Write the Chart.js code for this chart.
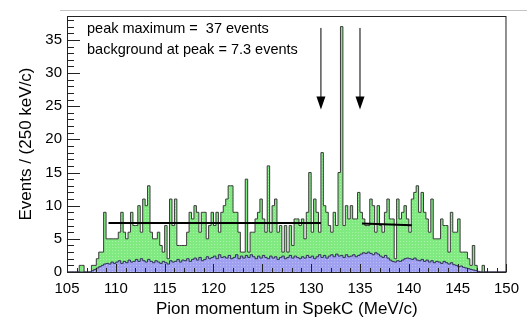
<!DOCTYPE html>
<html lang="en">
<head>
    <meta charset="UTF-8">
    <title>Pion momentum in SpekC</title>
    <script src="https://cdn.jsdelivr.net/npm/chart.js"></script>
    <style>
        body { margin: 0; background: #fff; }
        #wrap { width: 527px; height: 318px; }
    </style>
</head>
<body>
    <div id="wrap"><canvas id="histChart" width="527" height="318"></canvas></div>
    <script>
        // Histogram binning (MeV/c)
        const binLow = 105;
        const binWidth = 0.25;

        // Events per 250 keV/c bin, 105.00 ... 149.75 (4 bins per group = 1 MeV/c)
        const totalCounts = [
            0, 0, 0, 0,   0, 1, 1, 0,   0, 0, 1, 1,   2, 3, 3, 9,
            5, 5, 5, 5,   5, 6, 9, 6,   5, 6, 9, 7,   7, 10, 6, 11,
            10, 13, 6, 5, 5, 6, 4, 3,   7, 2, 11, 7,  11, 4, 4, 4,
            4, 6, 9, 8,   10, 9, 6, 9,  9, 5, 7, 9,   7, 9, 6, 9,
            10, 11, 13, 13, 9, 9, 6, 3, 3, 14, 3, 6,  6, 8, 9, 11,
            8, 6, 16, 6,  10, 11, 6, 7, 3, 7, 3, 7,   4, 8, 8, 7,
            8, 5, 9, 15,  6, 11, 9, 6,  18, 10, 9, 7, 6, 9, 7, 15,
            37, 7, 10, 8, 10, 8, 8, 12, 9, 8, 7, 7,   11, 10, 6, 10,
            7, 6, 9, 11,  8, 8, 2, 11,  8, 9, 10, 8,  6, 11, 12, 13,
            9, 12, 9, 8,  6, 11, 5, 5,  5, 8, 7, 7,   3, 9, 6, 6,
            8, 3, 3, 3,   2, 1, 4, 1,   0, 0, 1, 0,   0, 0, 0, 0,
            0, 0, 0, 0
        ];

        // Background estimate per bin (same binning)
        const bgCounts = [
            0, 0, 0, 0,           0, 0, 0, 0,           0, 0, 0.2, 0.4,
            0.6, 0.8, 1.0, 1.2,   1.3, 1.2, 1.5, 1.3,   1.5, 1.7, 1.3, 1.6,
            1.4, 1.8, 1.5, 1.6,   1.9, 1.6, 2.0, 1.7,   1.5, 1.9, 1.6, 1.4,
            1.7, 1.5, 1.3, 1.6,   1.4, 1.2, 1.7, 1.5,   1.6, 1.9, 1.5, 1.8,
            1.7, 2.0, 1.6, 1.9,   2.1, 1.8, 2.2, 1.7,   1.9, 2.3, 2.0, 2.2,
            2.4, 2.0, 2.6, 2.2,   2.3, 2.1, 2.5, 2.0,   2.2, 2.6, 2.0, 2.4,
            2.1, 2.5, 2.2, 2.6,   2.3, 2.0, 2.4, 2.1,   2.5, 2.2, 2.0, 2.4,
            2.1, 2.3, 1.9, 2.2,   2.4, 2.0, 2.2, 2.5,   2.1, 2.4, 2.2, 2.0,
            2.3, 2.1, 2.5, 2.2,   2.4, 2.0, 2.3, 2.6,   2.2, 2.5, 2.1, 2.4,
            2.6, 2.3, 2.7, 2.4,   2.5, 2.2, 2.6, 2.3,   2.4, 2.6, 2.3, 2.5,
            2.7, 2.9, 2.8, 3.0,   2.8, 2.6, 2.9, 2.7,   2.4, 2.2, 2.5, 2.1,
            1.8, 1.6, 1.5, 1.7,   1.6, 1.8, 2.0, 2.1,   2.0, 1.9, 2.1, 1.8,
            1.7, 1.9, 1.6, 1.8,   1.5, 1.7, 1.4, 1.6,   1.5, 1.3, 1.6, 1.4,
            1.2, 1.4, 1.1, 1.0,   0.8, 0.9, 0.7, 0.6,   0.5, 0.4, 0.3, 0.2,
            0.1, 0, 0, 0,         0, 0, 0, 0,           0, 0, 0, 0
        ];

        // Background level fits [momentum, events]
        const bgFitLeft = [[109.25, 7.4], [131.0, 7.4]];
        const bgFitRight = [[135.2, 7.3], [140.3, 7.05]];

        // Peak window markers (momentum) and arrow span (events)
        const arrowMomenta = [131, 135];
        const arrowSpan = [36.8, 24.5];

        const infoLines = ['peak maximum =  37 events', 'background at peak = 7.3 events'];

        const FONT = '"Liberation Sans", Arial, Helvetica, sans-serif';

        // Histogram -> step points at the bin edges
        function toSteps(counts) {
            const pts = counts.map((v, i) => ({ x: binLow + i * binWidth, y: v }));
            pts.push({ x: binLow + counts.length * binWidth, y: 0 });
            return pts;
        }

        // Fine stipple fill like the original plot
        function stipple(base, dot) {
            const c = document.createElement('canvas');
            c.width = 3; c.height = 3;
            const g = c.getContext('2d');
            g.fillStyle = base;
            g.fillRect(0, 0, 3, 3);
            g.fillStyle = dot;
            g.fillRect(1, 1, 1, 1);
            return g.createPattern(c, 'repeat');
        }

        // Frame, inward ticks, arrows and the text box
        const decorations = {
            id: 'decorations',
            afterDraw(chart) {
                const { ctx, chartArea: a, scales: { x, y } } = chart;
                ctx.save();

                // thin grey line on top of the picture
                ctx.strokeStyle = '#c4c4c4';
                ctx.lineWidth = 1;
                ctx.beginPath();
                ctx.moveTo(60, 10.5);
                ctx.lineTo(527, 10.5);
                ctx.stroke();

                ctx.strokeStyle = '#222';
                ctx.lineWidth = 1;
                ctx.strokeRect(a.left + 0.5, a.top + 0.5, a.right - a.left - 1, a.bottom - a.top);

                ctx.beginPath();
                for (let v = 105; v <= 150; v++) {
                    const px = Math.round(x.getPixelForValue(v)) + 0.5;
                    const len = v % 5 === 0 ? 8 : 4;
                    ctx.moveTo(px, a.bottom);
                    ctx.lineTo(px, a.bottom - len);
                }
                for (let v = 0; v <= 38; v++) {
                    const py = Math.round(y.getPixelForValue(v)) + 0.5;
                    const len = v % 5 === 0 ? 13 : 7;
                    ctx.moveTo(a.left, py);
                    ctx.lineTo(a.left + len, py);
                }
                ctx.stroke();

                // arrows
                ctx.strokeStyle = '#000';
                ctx.fillStyle = '#000';
                arrowMomenta.forEach(m => {
                    const px = x.getPixelForValue(m);
                    const top = y.getPixelForValue(arrowSpan[0]);
                    const tip = y.getPixelForValue(arrowSpan[1]);
                    ctx.beginPath();
                    ctx.moveTo(px, top);
                    ctx.lineTo(px, tip - 12);
                    ctx.stroke();
                    ctx.beginPath();
                    ctx.moveTo(px - 4.5, tip - 13);
                    ctx.lineTo(px + 4.5, tip - 13);
                    ctx.lineTo(px, tip);
                    ctx.closePath();
                    ctx.fill();
                });

                ctx.fillStyle = '#000';
                ctx.font = '14.5px ' + FONT;
                ctx.textAlign = 'left';
                ctx.textBaseline = 'alphabetic';
                ctx.fillText(infoLines[0], 87, 33);
                ctx.fillText(infoLines[1], 87, 54);
                ctx.restore();
            }
        };

        const ctx = document.getElementById('histChart').getContext('2d');
        new Chart(ctx, {
            type: 'line',
            data: {
                datasets: [
                    {
                        // fitted background levels
                        data: bgFitLeft.map(p => ({ x: p[0], y: p[1] })),
                        borderColor: '#000',
                        borderWidth: 2,
                        fill: false,
                        pointRadius: 0
                    },
                    {
                        data: bgFitRight.map(p => ({ x: p[0], y: p[1] })),
                        borderColor: '#000',
                        borderWidth: 2,
                        fill: false,
                        pointRadius: 0
                    },
                    {
                        label: 'Background',
                        data: toSteps(bgCounts),
                        stepped: 'before',
                        borderColor: '#2f2f5a',
                        borderWidth: 1,
                        backgroundColor: stipple('#a0a0f0', '#bcbcf8'),
                        fill: 'origin',
                        pointRadius: 0
                    },
                    {
                        label: 'Events',
                        data: toSteps(totalCounts),
                        stepped: 'before',
                        borderColor: '#3a3a3a',
                        borderWidth: 1,
                        backgroundColor: stipple('#80ea80', '#a6f4a6'),
                        fill: 'origin',
                        pointRadius: 0
                    }
                ]
            },
            options: {
                responsive: false,
                animation: false,
                devicePixelRatio: 1,
                layout: { padding: { top: 16, right: 11, left: 0, bottom: 0 } },
                plugins: { legend: { display: false }, tooltip: { enabled: false } },
                scales: {
                    x: {
                        type: 'linear',
                        min: 105,
                        max: 150,
                        grid: { display: false, drawTicks: false },
                        border: { display: false },
                        ticks: {
                            stepSize: 5,
                            autoSkip: false,
                            maxRotation: 0,
                            padding: 8,
                            color: '#000',
                            font: { family: FONT, size: 15 }
                        },
                        title: {
                            display: true,
                            text: 'Pion momentum in SpekC (MeV/c)',
                            color: '#000',
                            font: { family: FONT, size: 17, lineHeight: 1.0 },
                            padding: { top: 0, bottom: 0 }
                        },
                        afterFit(scale) { scale.height = 46; }
                    },
                    y: {
                        min: 0,
                        max: 38.6,
                        grid: { display: false, drawTicks: false },
                        border: { display: false },
                        ticks: {
                            stepSize: 5,
                            includeBounds: false,
                            padding: 5,
                            color: '#000',
                            font: { family: FONT, size: 15 }
                        },
                        title: {
                            display: true,
                            text: 'Events / (250 keV/c)',
                            color: '#000',
                            font: { family: FONT, size: 17 },
                            padding: { top: 16, bottom: 0 }
                        },
                        afterFit(scale) { scale.width = 67; }
                    }
                }
            },
            plugins: [decorations]
        });
    </script>
</body>
</html>
